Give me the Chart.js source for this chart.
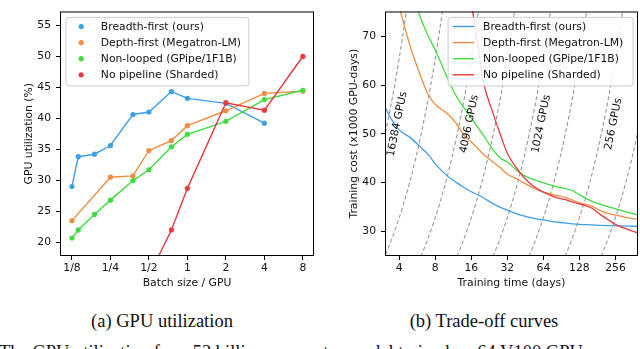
<!DOCTYPE html>
<html>
<head>
<meta charset="utf-8">
<script src="https://cdn.jsdelivr.net/npm/chart.js@4.4.1/dist/chart.umd.min.js"></script>
<style>
  html, body { margin: 0; padding: 0; background: #fff; }
  #page { position: relative; width: 640px; height: 349px; overflow: hidden; background: #fff; }
  .panel { position: absolute; top: 0; width: 320px; height: 300px; }
  .caption {
    position: absolute;
    font-family: "Liberation Serif", "Times New Roman", serif;
    font-size: 18.5px;
    line-height: 20px;
    color: #111;
    white-space: nowrap;
  }
</style>
</head>
<body>
<div id="page">
  <div class="panel" style="left:0"><canvas id="utilChart" width="320" height="300"></canvas></div>
  <div class="panel" style="left:320px"><canvas id="costChart" width="320" height="300"></canvas></div>
  <div class="caption" style="left:162px; top:311px; transform:translateX(-50%)">(a) GPU utilization</div>
  <div class="caption" style="left:484px; top:311px; transform:translateX(-50%)">(b) Trade-off curves</div>
  <div class="caption" style="left:-1px; top:342px">The GPU utilization for a 52 billion parameter model trained on 64 V100 GPUs</div>
</div>
<script>
const seriesNames = ['Breadth-first (ours)', 'Depth-first (Megatron-LM)', 'Non-looped (GPipe/1F1B)', 'No pipeline (Sharded)'];
const seriesColors = ['#3e9fe4', '#ee8d45', '#3edc3e', '#e8393c'];

// (a) GPU utilization (%) vs batch size per GPU
const breadthBatch = [0.125, 0.14, 0.1875, 0.25, 0.375, 0.5, 0.75, 1, 2, 4];
const breadthUtil = [29.0, 33.8, 34.2, 35.6, 40.6, 41.0, 44.3, 43.2, 42.4, 39.2];
const depthBatch = [0.125, 0.25, 0.375, 0.5, 0.75, 1, 2, 4, 8];
const depthUtil = [23.5, 30.5, 30.7, 34.8, 36.4, 38.8, 41.2, 44.0, 44.35];
const nonLoopBatch = [0.125, 0.14, 0.1875, 0.25, 0.375, 0.5, 0.75, 1, 2, 4, 8];
const nonLoopUtil = [20.7, 22.0, 24.5, 26.8, 29.95, 31.7, 35.4, 37.4, 39.5, 43.0, 44.5];
const noPipeBatch = [0.5, 0.75, 1, 2, 4, 8];
const noPipeUtil = [14.6, 22.0, 28.7, 42.5, 41.3, 49.95];

const batchTicks = [0.125, 0.25, 0.5, 1, 2, 4, 8];
const batchTickLabels = ['1/8', '1/4', '1/2', '1', '2', '4', '8'];
const utilTicks = [20, 25, 30, 35, 40, 45, 50, 55];

// (b) training cost (x1000 GPU-days) vs training time (days)
const breadthDays = [3, 3.5, 4, 5, 6, 7, 8, 10, 12, 14, 16, 20, 24, 28, 32, 40, 48, 56, 64, 80, 96, 112, 128, 160, 192, 256, 320, 400];
const breadthCost = [55.7, 52.7, 50.8, 49.1, 47.3, 45.7, 43.8, 41.4, 40.0, 38.9, 38.1, 36.9, 35.7, 34.9, 34.3, 33.4, 32.9, 32.5, 32.3, 31.9, 31.7, 31.5, 31.4, 31.3, 31.2, 31.1, 31.05, 31.0];
const depthDays = [3.9, 5, 6, 7, 8, 10, 12, 14, 16, 20, 24, 28, 32, 40, 48, 56, 64, 80, 96, 112, 128, 160, 192, 224, 256, 320, 400];
const depthCost = [77.0, 67.5, 62.0, 58.0, 56.0, 54.2, 52.1, 49.6, 48.3, 45.9, 44.3, 43.0, 41.7, 40.5, 39.4, 38.6, 38.0, 37.4, 37.0, 36.4, 35.8, 35.2, 34.2, 33.6, 33.3, 32.8, 32.4];
const nonLoopDays = [5.5, 6, 7, 8, 10, 12, 14, 16, 20, 24, 28, 32, 40, 48, 56, 64, 80, 96, 112, 128, 160, 192, 224, 256, 320, 400];
const nonLoopCost = [77.0, 73.9, 70.0, 67.2, 61.7, 57.7, 55.2, 53.2, 49.8, 46.9, 45.0, 44.2, 42.1, 41.0, 40.4, 39.9, 39.2, 38.8, 38.3, 37.5, 36.2, 35.5, 35.0, 34.6, 33.9, 33.3];
const noPipeDays = [16, 18, 20, 24, 28, 32, 40, 48, 56, 64, 80, 96, 112, 128, 160, 192, 224, 256, 320, 400];
const noPipeCost = [76.8, 68.8, 61.0, 54.6, 49.8, 46.0, 42.3, 40.1, 38.8, 38.0, 37.0, 36.5, 36.0, 35.6, 34.8, 33.4, 32.3, 31.4, 30.4, 29.6];

const dayTicks = [4, 8, 16, 32, 64, 128, 256];
const costTicks = [30, 40, 50, 60, 70];

// iso-GPU reference lines: cost = GPUs * days / 1000
const gpuCounts = [32768, 16384, 8192, 4096, 2048, 1024, 512, 256, 128, 64];
const gpuLabelled = [16384, 4096, 1024, 256];
const isoCostLevels = [20, 24, 28, 32, 36, 40, 45, 50, 55, 60, 65, 70, 76, 80];

const FONT = { family: '"DejaVu Sans", sans-serif', size: 10.8 };
const FONT_CSS = '10.8px "DejaVu Sans", sans-serif';
const INK = '#111';

const framePlugin = {
  id: 'frame',
  afterDatasetsDraw(chart) {
    const { ctx, chartArea: a } = chart;
    ctx.save();
    ctx.strokeStyle = '#000';
    ctx.lineWidth = 1;
    ctx.strokeRect(a.left + 0.5, a.top + 0.5, a.right - a.left - 1, a.bottom - a.top - 1);
    ctx.restore();
  }
};

const boxLegend = {
  id: 'boxLegend',
  afterDraw(chart, args, opts) {
    const { ctx, chartArea: a } = chart;
    const w = opts.width, h = 68.6;
    const x = opts.anchor === 'right' ? a.right - 5.4 - w : a.left + 5.4;
    const y = a.top + 5.4;
    ctx.save();
    ctx.beginPath();
    ctx.roundRect(x + 0.5, y + 0.5, w, h, 3);
    ctx.fillStyle = 'rgba(255,255,255,0.85)';
    ctx.fill();
    ctx.strokeStyle = '#cccccc';
    ctx.lineWidth = 1;
    ctx.stroke();
    ctx.font = FONT_CSS;
    ctx.textBaseline = 'middle';
    seriesNames.forEach((name, i) => {
      const ry = y + 9.6 + i * 16.1;
      ctx.fillStyle = seriesColors[i];
      ctx.strokeStyle = seriesColors[i];
      if (opts.marker === 'dot') {
        ctx.beginPath();
        ctx.arc(x + 15.8, ry, 2.6, 0, Math.PI * 2);
        ctx.fill();
      } else {
        ctx.lineWidth = 1.4;
        ctx.beginPath();
        ctx.moveTo(x + 5, ry);
        ctx.lineTo(x + 26.6, ry);
        ctx.stroke();
      }
      ctx.fillStyle = INK;
      ctx.fillText(name, x + 35.4, ry + 0.5);
    });
    ctx.restore();
  }
};

const isoLabels = {
  id: 'isoLabels',
  afterDatasetsDraw(chart) {
    const { ctx, scales: { x, y } } = chart;
    const c = 52;
    ctx.save();
    ctx.font = FONT_CSS;
    ctx.fillStyle = INK;
    ctx.textAlign = 'center';
    ctx.textBaseline = 'middle';
    gpuLabelled.forEach(n => {
      const px = x.getPixelForValue(c * 1000 / n), py = y.getPixelForValue(c);
      const px2 = x.getPixelForValue((c + 1) * 1000 / n), py2 = y.getPixelForValue(c + 1);
      const ang = Math.atan2(py2 - py, px2 - px);
      ctx.save();
      ctx.translate(px + 10, py);
      ctx.rotate(ang);
      ctx.fillText(n + ' GPUs', 0, 0);
      ctx.restore();
    });
    ctx.restore();
  }
};

function tickGrid() {
  return { display: true, drawOnChartArea: false, drawTicks: true, tickLength: 4, color: '#000', lineWidth: 1 };
}

function pairs(xs, ys) {
  return xs.map((v, k) => ({ x: v, y: ys[k] }));
}

function utilSeries(i, xs, ys) {
  return {
    label: seriesNames[i],
    data: pairs(xs, ys),
    borderColor: seriesColors[i],
    backgroundColor: seriesColors[i],
    borderWidth: 1.4,
    pointRadius: 2.6,
    pointBorderWidth: 0,
    tension: 0,
    order: 4 - i
  };
}

function costSeries(i, xs, ys) {
  return {
    label: seriesNames[i],
    data: pairs(xs, ys),
    borderColor: seriesColors[i],
    borderWidth: 1.3,
    pointRadius: 0,
    cubicInterpolationMode: 'monotone',
    order: 4 - i
  };
}

function isoLine(n) {
  return {
    label: n + ' GPUs',
    data: isoCostLevels.map(c => ({ x: c * 1000 / n, y: c })),
    borderColor: '#8a8a8a',
    borderWidth: 1,
    borderDash: [4, 2.5],
    pointRadius: 0,
    cubicInterpolationMode: 'monotone',
    order: 10
  };
}

const common = {
  responsive: false,
  animation: false,
  events: [],
  plugins: { legend: { display: false }, tooltip: { enabled: false } }
};

new Chart(document.getElementById('utilChart'), {
  type: 'line',
  data: {
    datasets: [
      utilSeries(0, breadthBatch, breadthUtil),
      utilSeries(1, depthBatch, depthUtil),
      utilSeries(2, nonLoopBatch, nonLoopUtil),
      utilSeries(3, noPipeBatch, noPipeUtil)
    ]
  },
  options: {
    ...common,
    layout: { padding: { left: 0, top: 1, right: 6, bottom: 0 } },
    plugins: { ...common.plugins, boxLegend: { anchor: 'left', width: 183, marker: 'dot' } },
    scales: {
      x: {
        type: 'logarithmic',
        min: 0.1008, max: 9.78,
        afterBuildTicks: s => { s.ticks = batchTicks.map(v => ({ value: v })); },
        afterFit: s => { s.height = 44; },
        ticks: { callback: (v, i) => batchTickLabels[i], font: FONT, color: INK, padding: 2, maxRotation: 0, autoSkip: false },
        grid: tickGrid(),
        border: { display: false },
        title: { display: true, text: 'Batch size / GPU', font: FONT, color: INK, padding: { top: 0, bottom: 10 } }
      },
      y: {
        type: 'linear',
        min: 17.8, max: 57.2,
        afterBuildTicks: s => { s.ticks = utilTicks.map(v => ({ value: v })); },
        afterFit: s => { s.width = 60; },
        ticks: { font: FONT, color: INK, padding: 5 },
        grid: tickGrid(),
        border: { display: false },
        title: { display: true, text: 'GPU utilization (%)', font: FONT, color: INK, padding: { top: 22.5, bottom: 0 } }
      }
    }
  },
  plugins: [framePlugin, boxLegend]
});

new Chart(document.getElementById('costChart'), {
  type: 'line',
  data: {
    datasets: [
      costSeries(0, breadthDays, breadthCost),
      costSeries(1, depthDays, depthCost),
      costSeries(2, nonLoopDays, nonLoopCost),
      costSeries(3, noPipeDays, noPipeCost),
      ...gpuCounts.map(isoLine)
    ]
  },
  options: {
    ...common,
    layout: { padding: { left: 0, top: 1, right: 2, bottom: 0 } },
    plugins: { ...common.plugins, boxLegend: { anchor: 'right', width: 185, marker: 'line' } },
    scales: {
      x: {
        type: 'logarithmic',
        min: 3.04, max: 395,
        afterBuildTicks: s => { s.ticks = dayTicks.map(v => ({ value: v })); },
        afterFit: s => { s.height = 44; },
        ticks: { callback: v => String(v), font: FONT, color: INK, padding: 2, maxRotation: 0, autoSkip: false },
        grid: tickGrid(),
        border: { display: false },
        title: { display: true, text: 'Training time (days)', font: FONT, color: INK, padding: { top: 0, bottom: 10 } }
      },
      y: {
        type: 'linear',
        min: 24.9, max: 75.1,
        afterBuildTicks: s => { s.ticks = costTicks.map(v => ({ value: v })); },
        afterFit: s => { s.width = 65; },
        ticks: { font: FONT, color: INK, padding: 5 },
        grid: tickGrid(),
        border: { display: false },
        title: { display: true, text: 'Training cost (x1000 GPU-days)', font: FONT, color: INK, padding: { top: 27.5, bottom: 0 } }
      }
    }
  },
  plugins: [framePlugin, boxLegend, isoLabels]
});
</script>
</body>
</html>
